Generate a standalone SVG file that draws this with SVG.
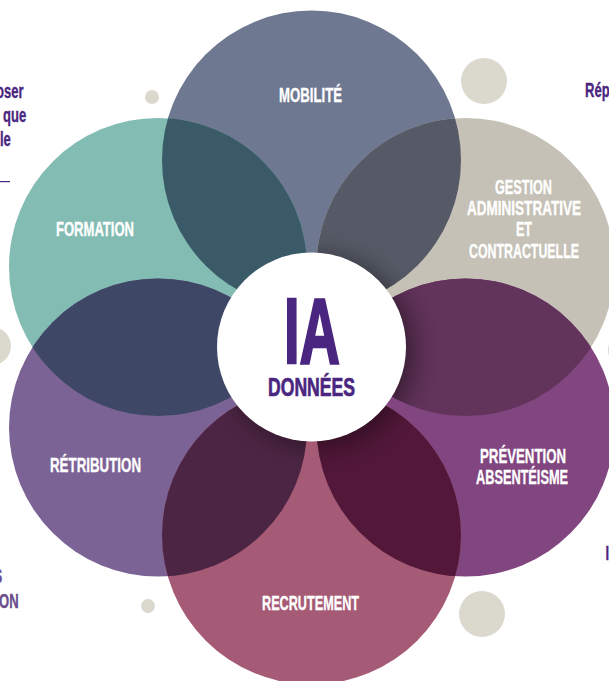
<svg xmlns="http://www.w3.org/2000/svg" width="609" height="681" viewBox="0 0 609 681">
<style>
text{font-family:"Liberation Sans",Arial,sans-serif;font-weight:700}
.l{fill:#fff;stroke:#fff;stroke-width:.35px;font-size:21px;text-anchor:start}
.s{fill:#4a2680;stroke:#4a2680;stroke-width:.4px;font-size:21px}
.m{fill:#6a4c8c;stroke:#6a4c8c}
.d{fill:#dbd9ce}
</style>
<defs>
<clipPath id="cT"><circle cx="311.500" cy="160" r="149.500"/></clipPath>
<clipPath id="cB"><circle cx="311.500" cy="535" r="149.500"/></clipPath>
<clipPath id="cLT"><circle cx="158" cy="267" r="149"/></clipPath>
<clipPath id="cRB"><circle cx="465.500" cy="427.500" r="149"/></clipPath>
<clipPath id="cLB"><circle cx="158" cy="427.500" r="149"/></clipPath>
<clipPath id="cRT"><circle cx="465.500" cy="267" r="149"/></clipPath>
<filter id="bl" x="-40%" y="-40%" width="180%" height="180%"><feGaussianBlur stdDeviation="13"/></filter>
</defs>
<g id="decor">
<circle class="d" cx="152" cy="97" r="7"/>
<circle class="d" cx="484" cy="81" r="23"/>
<circle class="d" cx="148" cy="606" r="7"/>
<circle class="d" cx="482" cy="614" r="23"/>
<circle class="d" cx="-8" cy="346" r="19"/>
<circle class="d" cx="627" cy="350" r="19"/>
</g>
<g id="outside-text">
<text class="s" transform="translate(-4 98) scale(.62 1)">oser</text>
<text class="s" transform="translate(3 122) scale(.62 1)">que</text>
<text class="s" transform="translate(0 146) scale(.62 1)">le</text>
<rect x="0" y="181" width="10" height="1.2" fill="#4a2680"/>
<text class="s" transform="translate(585 97) scale(.62 1)">Rép</text>
<text class="s m" transform="translate(-6.500 583) scale(.62 1)">S</text>
<text class="s m" transform="translate(-1 608) scale(.62 1)">ON</text>
<text class="s" transform="translate(605.500 560) scale(.62 1)">I</text>
</g>
<g id="node-mobilite"><circle cx="311.500" cy="160" r="149.500" fill="#6f7891"/></g>
<g id="node-formation"><circle cx="158" cy="267" r="149" fill="#83bcb3"/></g>
<g id="node-gestion"><circle cx="465.500" cy="267" r="149" fill="#c5c1b6"/></g>
<g id="node-retribution"><circle cx="158" cy="427.500" r="149" fill="#7c6395"/></g>
<g id="node-prevention"><circle cx="465.500" cy="427.500" r="149" fill="#81457f"/></g>
<g id="node-recrutement"><circle cx="311.500" cy="535" r="149.500" fill="#a55b75"/></g>
<g id="overlaps">
<g clip-path="url(#cT)"><circle cx="158" cy="267" r="149" fill="#3b5a68"/></g>
<g clip-path="url(#cT)"><circle cx="465.500" cy="267" r="149" fill="#565a66"/></g>
<g clip-path="url(#cLT)"><circle cx="158" cy="427.500" r="149" fill="#3e4866"/></g>
<g clip-path="url(#cRT)"><circle cx="465.500" cy="427.500" r="149" fill="#62335b"/></g>
<g clip-path="url(#cB)"><circle cx="158" cy="427.500" r="149" fill="#4d2544"/></g>
<g clip-path="url(#cB)"><circle cx="465.500" cy="427.500" r="149" fill="#521739"/></g>
</g>
<g id="center-shadow">
<g clip-path="url(#cT)"><g clip-path="url(#cRT)"><circle cx="318" cy="352" r="96" fill="#000" fill-opacity=".45" filter="url(#bl)"/></g></g>
<g clip-path="url(#cRT)"><g clip-path="url(#cRB)"><circle cx="318" cy="352" r="96" fill="#000" fill-opacity=".45" filter="url(#bl)"/></g></g>
<g clip-path="url(#cB)"><g clip-path="url(#cRB)"><circle cx="318" cy="352" r="96" fill="#000" fill-opacity=".4" filter="url(#bl)"/></g></g>
<g clip-path="url(#cB)"><g clip-path="url(#cLB)"><circle cx="318" cy="352" r="96" fill="#000" fill-opacity=".4" filter="url(#bl)"/></g></g>
</g>
<g id="labels">
<text class="l" x="279" y="102" textLength="63" lengthAdjust="spacingAndGlyphs">MOBILITÉ</text>
<text class="l" x="56" y="236" textLength="78" lengthAdjust="spacingAndGlyphs">FORMATION</text>
<text class="l" x="495" y="194" textLength="57" lengthAdjust="spacingAndGlyphs">GESTION</text>
<text class="l" x="467" y="215" textLength="114" lengthAdjust="spacingAndGlyphs">ADMINISTRATIVE</text>
<text class="l" x="516" y="236" textLength="16" lengthAdjust="spacingAndGlyphs">ET</text>
<text class="l" x="469" y="258" textLength="110" lengthAdjust="spacingAndGlyphs">CONTRACTUELLE</text>
<text class="l" x="50" y="472" textLength="91" lengthAdjust="spacingAndGlyphs">RÉTRIBUTION</text>
<text class="l" x="480" y="463" textLength="86" lengthAdjust="spacingAndGlyphs">PRÉVENTION</text>
<text class="l" x="476" y="484" textLength="92" lengthAdjust="spacingAndGlyphs">ABSENTÉISME</text>
<text class="l" x="262" y="610" textLength="97" lengthAdjust="spacingAndGlyphs">RECRUTEMENT</text>
</g>
<g id="node-center">
<circle cx="311.500" cy="347" r="94.500" fill="#fff"/>
<text x="284" y="363" font-size="92" fill="#4a2680" stroke="#4a2680" stroke-width="2.500" textLength="56" lengthAdjust="spacingAndGlyphs">IA</text>
<text x="268" y="396" font-size="26" fill="#4a2680" stroke="#4a2680" stroke-width=".7" textLength="87" lengthAdjust="spacingAndGlyphs">DONNÉES</text>
</g>
</svg>
